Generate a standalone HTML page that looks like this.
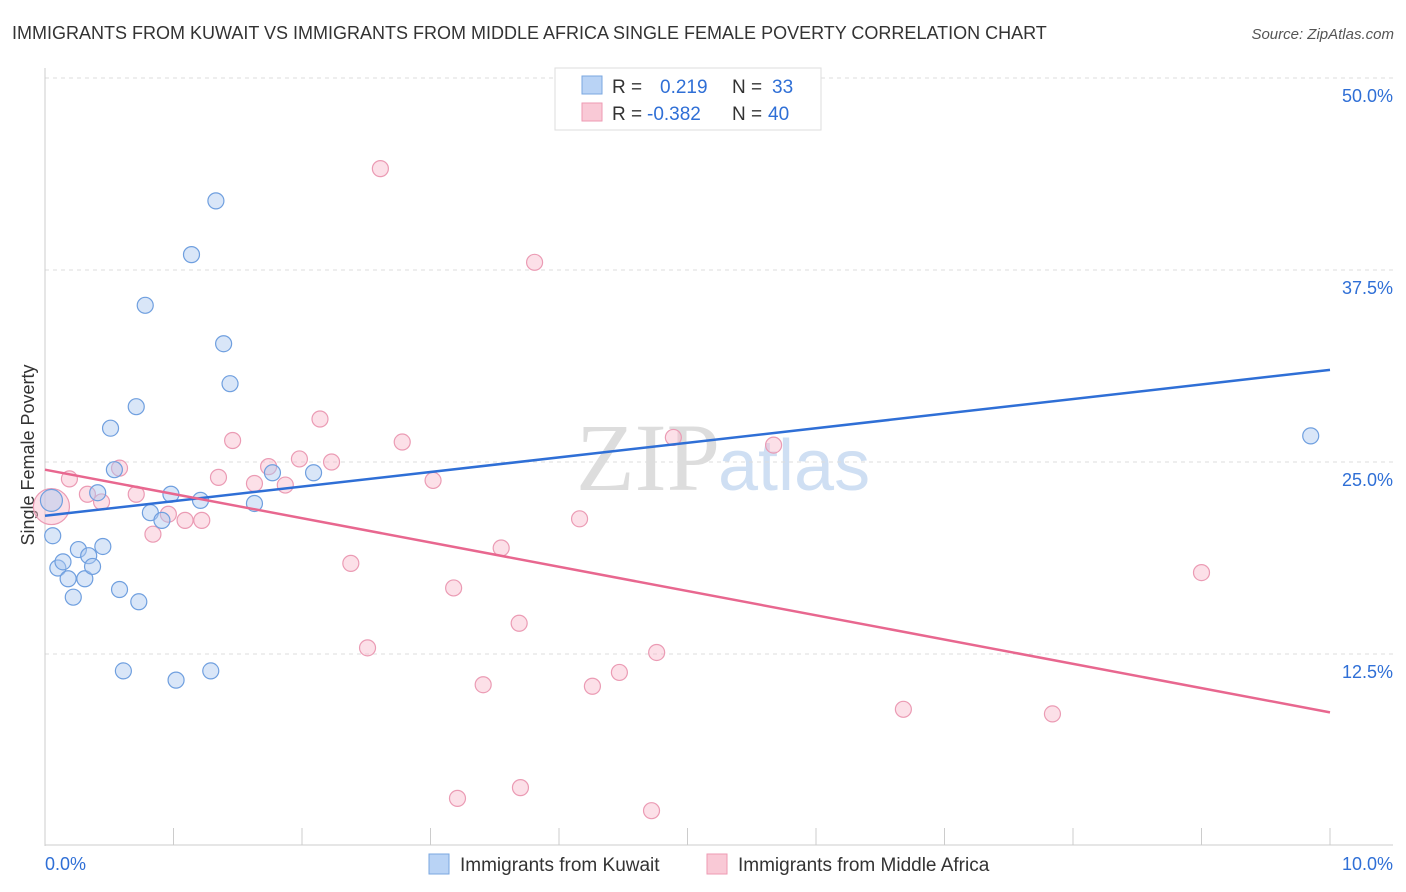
<!DOCTYPE html>
<html><head><meta charset="utf-8"><style>
body{margin:0;background:#fff;font-family:"Liberation Sans",sans-serif;}
svg{display:block}
</style></head><body>
<svg id="c" width="1406" height="892">
<text x="12" y="39" font-size="18" fill="#333">IMMIGRANTS FROM KUWAIT VS IMMIGRANTS FROM MIDDLE AFRICA SINGLE FEMALE POVERTY CORRELATION CHART</text>
<text x="1394" y="39" font-size="15" fill="#555" font-style="italic" text-anchor="end">Source: ZipAtlas.com</text>
<text x="720" y="490" font-size="96" fill="#ddd" text-anchor="end" font-family="Liberation Serif">ZIP</text>
<text x="718" y="490" font-size="72" fill="#cfdff3">atlas</text>
<text transform="translate(34,455) rotate(-90)" font-size="18" fill="#333" text-anchor="middle">Single Female Poverty</text>
<g id="grid"></g><g id="axes"></g><g id="pts"></g><g id="lines"></g>
<g>
<rect x="555" y="68" width="266" height="62" fill="#fff" stroke="#ddd"/>
<rect x="582" y="76" width="20" height="18" fill="#b9d3f5" stroke="#7aa7e0"/>
<rect x="582" y="103" width="20" height="18" fill="#f9c9d6" stroke="#ee9ab3"/>
<text x="612" y="93" font-size="19" fill="#333">R = <tspan fill="#2f6fd6" x="660">0.219</tspan><tspan x="732" fill="#333">N = </tspan><tspan fill="#2f6fd6" x="772">33</tspan></text>
<text x="612" y="120" font-size="19" fill="#333">R = <tspan fill="#2f6fd6" x="647">-0.382</tspan><tspan x="732" fill="#333">N = </tspan><tspan fill="#2f6fd6" x="768">40</tspan></text>
</g>
<g>
<rect x="429" y="854" width="20" height="20" fill="#b9d3f5" stroke="#7aa7e0"/>
<text x="460" y="871" font-size="19" fill="#333">Immigrants from Kuwait</text>
<rect x="707" y="854" width="20" height="20" fill="#f9c9d6" stroke="#ee9ab3"/>
<text x="738" y="871" font-size="19" fill="#333">Immigrants from Middle Africa</text>
</g>
</svg>
<script>
const xTicks=[0,1,2,3,4,5,6,7,8,9,10];
const yTicks=[12.5,25,37.5,50];
const yTickLabels=["12.5%","25.0%","37.5%","50.0%"];
const blueX=[0.05,0.06,0.10,0.14,0.18,0.22,0.26,0.31,0.34,0.37,0.41,0.45,0.51,0.54,0.58,0.61,0.71,0.73,0.78,0.82,0.91,0.98,1.02,1.14,1.21,1.29,1.33,1.39,1.44,1.63,1.77,2.09,9.85];
const blueY=[22.5,20.2,18.1,18.5,17.4,16.2,19.3,17.4,18.9,18.2,23.0,19.5,27.2,24.5,16.7,11.4,28.6,15.9,35.2,21.7,21.2,22.9,10.8,38.5,22.5,11.4,42.0,32.7,30.1,22.3,24.3,24.3,26.7];
const pinkX=[0.05,0.19,0.33,0.44,0.58,0.71,0.84,0.96,1.09,1.22,1.35,1.46,1.63,1.74,1.87,1.98,2.14,2.23,2.38,2.51,2.61,2.78,3.02,3.18,3.21,3.41,3.55,3.69,3.70,3.81,4.16,4.26,4.47,4.72,4.76,4.89,5.67,6.68,7.84,9.00];
const pinkY=[22.1,23.9,22.9,22.4,24.6,22.9,20.3,21.6,21.2,21.2,24.0,26.4,23.6,24.7,23.5,25.2,27.8,25.0,18.4,12.9,44.1,26.3,23.8,16.8,3.1,10.5,19.4,14.5,3.8,38.0,21.3,10.4,11.3,2.3,12.6,26.6,26.1,8.9,8.6,17.8];
const blueTrend=[21.5,31.0];
const pinkTrend=[24.5,8.7];
const X=v=>45+v*128.5, Y=v=>846-v*15.36;
const NS="http://www.w3.org/2000/svg";
function mk(t,a,p){const e=document.createElementNS(NS,t);for(const k in a)e.setAttribute(k,a[k]);p.appendChild(e);return e;}
const grid=document.getElementById('grid'),axes=document.getElementById('axes'),pts=document.getElementById('pts'),lines=document.getElementById('lines');
yTicks.forEach((t,i)=>{
 const l=mk('line',{x1:45,x2:1393,y1:Y(t),y2:Y(t),stroke:'#ddd','stroke-dasharray':'4,4'},grid);
 
 
 const tx=mk('text',{x:1393,y:Y(t)+24,'font-size':18,fill:'#2f6fd6','text-anchor':'end'},axes);
 tx.textContent=yTickLabels[i];
 
 
});
mk('line',{x1:45,x2:45,y1:68,y2:846,stroke:'#ccc'},axes);
mk('line',{x1:45,x2:1393,y1:845,y2:845,stroke:'#ccc'},axes);
xTicks.forEach(t=>{
 const l=mk('line',{x1:X(t),x2:X(t),y1:828,y2:845,stroke:'#ccc'},axes);
 
 
});
const x0=mk('text',{x:45,y:870,'font-size':18,fill:'#2f6fd6'},axes);x0.textContent='0.0%';


const x1=mk('text',{x:1393,y:870,'font-size':18,fill:'#2f6fd6','text-anchor':'end'},axes);x1.textContent='10.0%';


function dots(xs,ys,fill,stroke,name,bigR){
 xs.forEach((x,i)=>{
  const c=mk('circle',{cx:X(x),cy:Y(ys[i]),r:i===0?bigR:8,fill:fill,stroke:stroke,'stroke-width':1.2},pts);
  
  
 });
}
dots(pinkX,pinkY,'rgba(248,186,204,0.45)','#eb9bb4','point-middle-africa',18);
dots(blueX,blueY,'rgba(170,200,240,0.45)','#6f9fdf','point-kuwait',11);
const bl=mk('line',{x1:X(0),y1:Y(blueTrend[0]),x2:X(10),y2:Y(blueTrend[1]),stroke:'#2f6fd6','stroke-width':2.5},lines);


const pl=mk('line',{x1:X(0),y1:Y(pinkTrend[0]),x2:X(10),y2:Y(pinkTrend[1]),stroke:'#e8678f','stroke-width':2.5},lines);


</script>
</body></html>
